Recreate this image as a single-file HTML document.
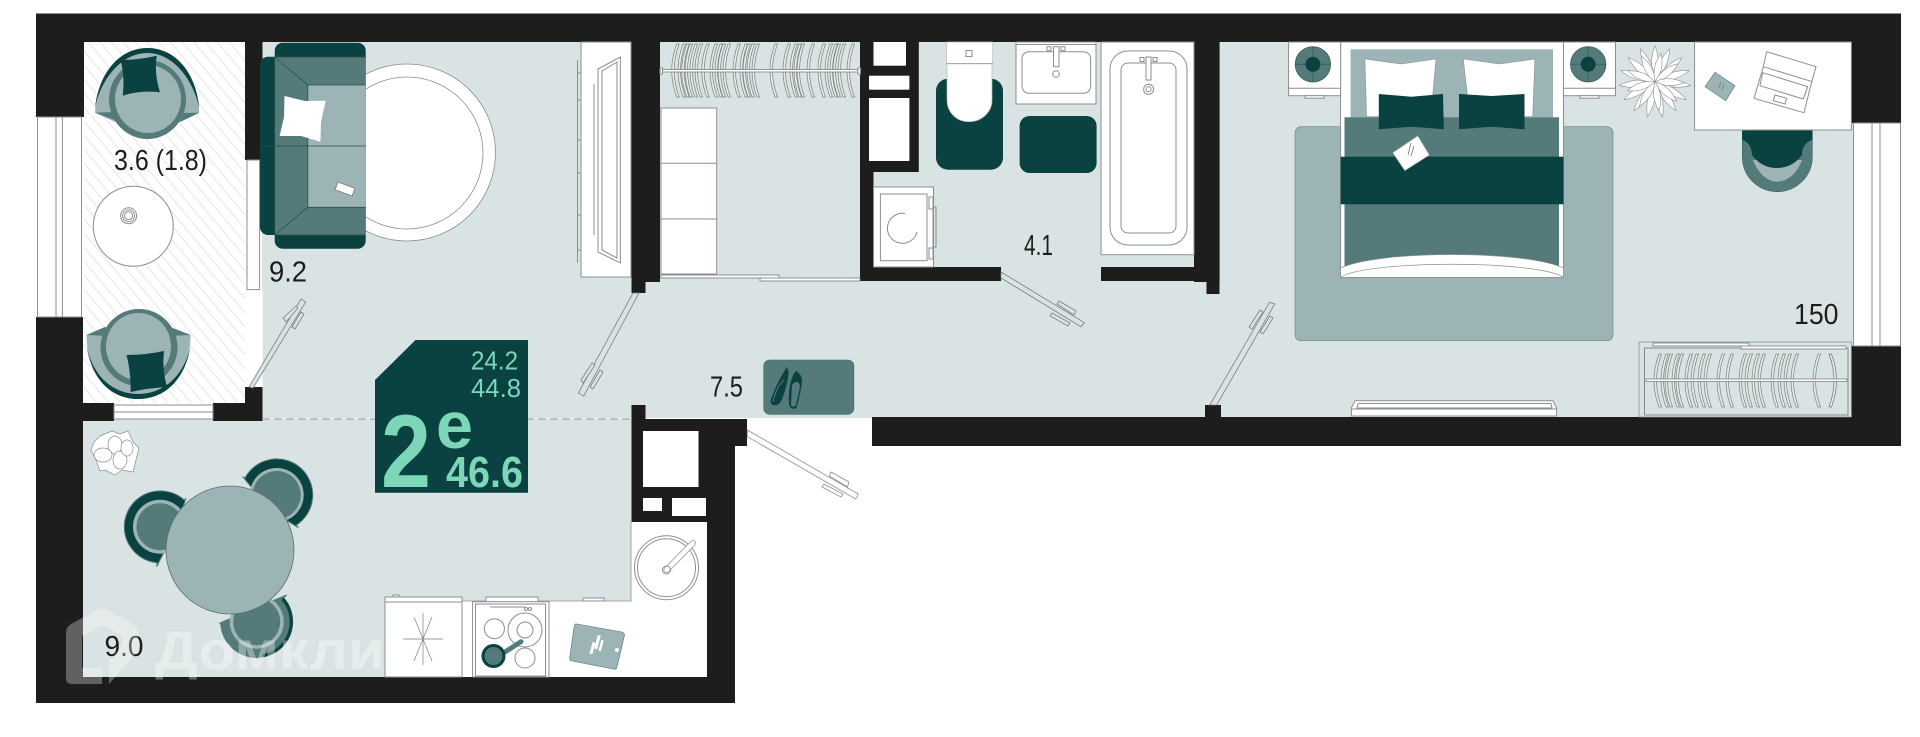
<!DOCTYPE html>
<html><head><meta charset="utf-8"><style>
html,body{margin:0;padding:0;background:#fff;width:1920px;height:737px;overflow:hidden}
svg{display:block}
text{font-family:"Liberation Sans",sans-serif}
.l{fill:#1d1d1b;font-size:29px}
.w{fill:#fff;stroke:#8a8f8f;stroke-width:1}
.t{fill:none;stroke:#8a8f8f;stroke-width:1}
.d{fill:#dae3e3;stroke:#7a8080;stroke-width:.8}
</style></head><body>
<svg width="1920" height="737" viewBox="0 0 1920 737" xmlns="http://www.w3.org/2000/svg">
<defs>
<pattern id="hatch" width="9" height="22" patternUnits="userSpaceOnUse" patternTransform="rotate(-40)"><line x1="4.500" y1="0" x2="4.500" y2="22" stroke="#dcdfdf" stroke-width=".8"/></pattern>
<path id="h" d="M5,0 Q-5,26.500 5,53 l2.500,0 Q-2.500,26.500 7.500,0z" fill="#e4eaea" stroke="#7a8080" stroke-width=".7"/>
<path id="hr" d="M0,0 Q10,26.500 0,53 l2.500,0 Q12.500,26.500 2.500,0z" fill="#e4eaea" stroke="#6f7575" stroke-width=".7"/>
<path id="lf" d="M0,0 Q7,-18 0,-36 Q-7,-18 0,0z" fill="#fff" stroke="#8a8f8f" stroke-width=".6"/>
<path id="lm" d="M0,0 Q7,-14 0,-29 Q-7,-14 0,0z" fill="#fff" stroke="#8a8f8f" stroke-width=".6"/>
</defs>
<rect width="1920" height="737" fill="#fff"/>

<!-- floors -->
<rect x="262" y="42" width="1592" height="376" fill="#dae3e3"/>
<rect x="83" y="419" width="549" height="258" fill="#dae3e3"/>
<rect x="747" y="418" width="125" height="90" fill="#fff"/>

<!-- balcony -->
<rect x="84" y="42" width="178" height="362" fill="#fff"/>
<rect x="84" y="42" width="161" height="361" fill="url(#hatch)"/>
<rect x="245" y="290" width="17.500" height="97" fill="#fff"/>

<!-- kitchen counter -->
<rect x="385" y="601" width="322" height="76" fill="#fff"/>
<rect x="631" y="522" width="76" height="80" fill="#fff"/>
<path d="M385,601H631V522" fill="none" stroke="#8a8f8f" stroke-width=".8"/>
<rect x="486" y="597" width="52" height="5" class="w"/>
<rect x="583" y="598" width="21" height="3" class="w"/>

<!-- walls -->
<g fill="#1d1d1b">
<rect x="36" y="13.500" width="1865" height="28.500"/>
<rect x="36" y="13.500" width="48" height="103.500"/>
<rect x="1851.500" y="13.500" width="49.500" height="109.500"/>
<rect x="1851.500" y="346" width="49.500" height="100"/>
<rect x="872" y="417" width="1029" height="29"/>
<rect x="36" y="317" width="47" height="386"/>
<rect x="36" y="677" width="699" height="26"/>
<rect x="707" y="446" width="28" height="257"/>
<rect x="245" y="42" width="17.500" height="118"/>
<rect x="245" y="387" width="17.500" height="34"/>
<rect x="83" y="403" width="31" height="18"/>
<rect x="213" y="403" width="49" height="18"/>
<rect x="631.500" y="42" width="28.500" height="240"/>
<rect x="631.500" y="282" width="14" height="11"/>
<rect x="631.500" y="405" width="14" height="117"/>
<rect x="631.500" y="419" width="115.500" height="27"/>
<rect x="631.500" y="446" width="75.500" height="76"/>
<rect x="860" y="42" width="58.800" height="130"/>
<rect x="860" y="172" width="13.500" height="109"/>
<rect x="860" y="267" width="141" height="14"/>
<rect x="1101" y="267" width="93" height="14"/>
<rect x="1194" y="42" width="25.600" height="240"/>
<rect x="1206.500" y="282" width="13" height="12"/>
<rect x="1205" y="405" width="16" height="12"/>
</g>
<!-- shaft holes -->
<g fill="#fff">
<rect x="643" y="431" width="55.500" height="56"/>
<rect x="643" y="498" width="19" height="13"/>
<rect x="672" y="498" width="34" height="18"/>
<rect x="873.500" y="42" width="32.500" height="23.700"/>
<rect x="869" y="75.700" width="40.400" height="14"/>
<rect x="869" y="98" width="40.400" height="63"/>
</g>
<!-- windows -->
<rect x="37.500" y="117" width="44" height="200" class="w"/>
<path class="t" d="M56,117V317M62.400,117V317"/>
<rect x="1853.500" y="123" width="47" height="223" class="w"/>
<path class="t" d="M1872,123V346M1880,123V346"/>
<rect x="114" y="405" width="99" height="14" class="w"/>
<path class="t" d="M114,412H213"/>
<rect x="247" y="160" width="12.600" height="129.600" class="w"/>
<line x1="262" y1="419" x2="632" y2="419" stroke="#8d9494" stroke-width="1" stroke-dasharray="8 4"/>

<!-- balcony chairs -->
<path d="M95,112.700C97,75 120,48 147.500,48C175,48 197,75 199.300,112.700L180,122L115,122Z" fill="#9cb4b5"/>
<path d="M95,108C99,72 120,48 147.500,48C175,48 196,72 199.300,108C193,78 172,53 147.500,53C122,53 101,78 95,108Z" fill="#094240"/>
<path d="M95,112.700L115,120L113,112ZM199.300,112.700L180,122L183,113Z" fill="#547a79"/>
<ellipse cx="147.500" cy="99.500" rx="38.500" ry="39.500" fill="#547a79"/>
<ellipse cx="148" cy="99" rx="33" ry="34" fill="#9cb4b5"/>
<path d="M120.700,60Q138,60 156.700,55.700Q154,74 160,92.300Q140,90 122.700,95.700Q125,78 120.700,60Z" fill="#094240"/>
<path d="M190.600,335C190,372 168,399 138,399C108,399 87,372 86.500,335L105,327L170,327Z" fill="#9cb4b5"/>
<path d="M190.600,345C186,378 166,399 138,399C110,399 91,378 86.500,345C92,375 112,394 138,394C164,394 185,375 190.600,345Z" fill="#094240"/>
<path d="M86.500,335L105,327L108,336ZM190.600,335L170,327L168,336Z" fill="#547a79"/>
<ellipse cx="139" cy="347.500" rx="38.500" ry="38.500" fill="#547a79"/>
<ellipse cx="138.500" cy="346.500" rx="32.500" ry="33.500" fill="#9cb4b5"/>
<path d="M126.500,355Q146,355 164,351Q162,370 167,387Q148,388 130.600,392Q131,372 126.500,355Z" fill="#094240"/>
<circle cx="133.300" cy="226.300" r="40" class="w"/>
<circle cx="128.600" cy="215.700" r="8" class="t"/><circle cx="128.600" cy="215.700" r="6" class="t"/><circle cx="128.600" cy="215.700" r="4" class="t"/>

<!-- round rug -->
<circle cx="407" cy="152.500" r="88.500" fill="#fff" stroke="#8a8f8f" stroke-width=".8"/>
<circle cx="407" cy="153" r="76" fill="none" stroke="#8a8f8f" stroke-width=".8"/>

<!-- sofa -->
<rect x="260" y="56.700" width="30" height="178.300" rx="8" fill="#094240"/>
<rect x="274.700" y="42.700" width="91" height="206" rx="8" fill="#094240"/>
<rect x="274.700" y="57" width="91" height="178" fill="#547a79"/>
<rect x="307.800" y="85" width="57.900" height="122.300" fill="#9cb4b5"/>
<path d="M274.700,57L307.800,85V207.300L274.700,235M274.700,57V235M262,146H365.700M307.800,85H365.700M307.800,207.300H365.700M274.700,57H365.700M274.700,235H365.700" fill="none" stroke="#2d4f4e" stroke-width=".8"/>
<polygon points="284.500,96 305,101 325.700,100.700 321,122 320.400,141.700 301,136 279.600,136 284,117" fill="#fff"/>
<rect x="336" y="185" width="18" height="8" transform="rotate(20 345 189)" fill="#fff" stroke="#666" stroke-width=".6"/>

<!-- TV -->
<rect x="581" y="42" width="50" height="235" class="w"/>
<polygon points="598,69 620.400,57 620.400,263 598,252" class="w"/>
<polygon points="602,71 617,62 617,258 602,250" class="w"/>
<path class="t" d="M577.500,60V263M577.500,73h3M577.500,100h3M577.500,140h3M577.500,173h3M577.500,215h3M577.500,250h3M594,84V235"/>

<!-- closet -->
<g>
<use href="#h" x="671.700" y="44"/><use href="#h" x="678" y="44"/><use href="#h" x="681.700" y="44"/><use href="#h" x="685" y="44"/><use href="#h" x="690" y="44"/><use href="#h" x="695" y="44"/><use href="#h" x="701.700" y="44"/><use href="#h" x="710" y="44"/><use href="#h" x="715" y="44"/><use href="#h" x="718" y="44"/><use href="#h" x="723" y="44"/><use href="#h" x="733" y="44"/><use href="#h" x="740" y="44"/><use href="#h" x="743" y="44"/><use href="#h" x="747" y="44"/><use href="#h" x="752" y="44"/><use href="#h" x="770" y="44"/><use href="#h" x="783" y="44"/><use href="#h" x="790" y="44"/><use href="#h" x="794" y="44"/><use href="#h" x="797" y="44"/><use href="#h" x="807" y="44"/><use href="#h" x="818" y="44"/><use href="#h" x="825" y="44"/><use href="#h" x="830" y="44"/><use href="#h" x="833" y="44"/><use href="#h" x="838" y="44"/><use href="#h" x="847" y="44"/>
</g>
<rect x="661" y="69.500" width="198" height="2.500" fill="#fff" stroke="#7a8080" stroke-width=".8"/>
<rect x="660" y="68" width="2.500" height="6" class="w"/><rect x="858" y="68" width="2.500" height="6" class="w"/>
<rect x="661" y="108" width="55.700" height="166" class="w"/>
<path class="t" d="M661,163.300H716.700M661,219H716.700"/>
<rect x="661" y="275" width="118" height="3" class="w"/>
<rect x="760" y="278" width="100" height="3" class="w"/>

<!-- bathroom -->
<rect x="936" y="78.700" width="67" height="91" rx="12" fill="#094240"/>
<path d="M946.500,42H992.700V63.700H992V100C992,112 982,121.700 969,121.700C956,121.700 947,112 947,100V63.700H946.500Z" fill="#fff" stroke="#b5baba" stroke-width=".7"/>
<line x1="946.500" y1="63.700" x2="992.700" y2="63.700" stroke="#8a8f8f" stroke-width=".8"/>
<rect x="966" y="50.500" width="6" height="6" class="w"/>
<rect x="1016" y="42" width="80" height="62" class="w"/>
<path class="t" d="M1016,44.500H1096"/>
<rect x="1022" y="51.700" width="68.600" height="41.600" rx="7" class="w"/>
<rect x="1053.500" y="46.700" width="5.500" height="20" class="w"/>
<rect x="1047" y="46.700" width="4" height="4" class="w"/><rect x="1061" y="46.700" width="4" height="4" class="w"/>
<circle cx="1056" cy="74" r="3.300" class="w"/>
<rect x="1019.600" y="116" width="77" height="57" rx="10" fill="#094240"/>
<rect x="1101" y="42" width="93" height="212.700" class="w"/>
<rect x="1110" y="51" width="77" height="194" rx="18" class="w"/>
<rect x="1121" y="63" width="55" height="170" rx="7" class="w"/>
<rect x="1146" y="57" width="5" height="23" class="w"/>
<rect x="1140" y="57.500" width="4" height="4" class="w"/><rect x="1153" y="57.500" width="4" height="4" class="w"/>
<circle cx="1148.600" cy="89.300" r="5" class="w"/><circle cx="1148.600" cy="89.300" r="2.500" class="t"/>
<rect x="873.500" y="187" width="60" height="80" class="w"/>
<rect x="880.400" y="194" width="46.600" height="66.700" class="w"/>
<path class="t" d="M905,213.500A15,15 0 1 0 917,232"/>
<path class="t" d="M929,197h4v12h-4zM933,207h3v40h-3zM929,248h4v11h-4z"/>

<!-- hall mat + shoes -->
<rect x="763.700" y="360" width="90.200" height="54.300" rx="6" fill="#547a79" stroke="#3f6362" stroke-width=".6"/>
<path d="M787,368C781,376 771,398 771,402C772,406 778,405 780,402C783,397 788,380 788,372Z" fill="#094240" stroke="#094240"/>
<path d="M773,402C775,392 778,385 784,380" fill="none" stroke="#547a79" stroke-width="1"/>
<path d="M796,371C791,376 788,390 789,404C790,410 796,410 797,406C799,398 802,386 802,380C802,376 799,373 796,371Z" fill="#094240"/>
<path d="M792,385C795,380 799,381 800,386C799,393 797,400 796,405C794,408 791,407 791,404Z" fill="#547a79"/>

<!-- doors -->
<polygon points="249,387 301,299 305.700,302 253,388" class="d"/>
<polygon points="283,318 296,306 298,308 286,322" class="d"/><polygon points="292,327 301,312 304,314 295,329" class="d"/>
<polygon points="633,293 639,293 583.700,396 578.400,393" class="d"/>
<polygon points="581,380 592,363 595,365 583,383" class="d"/><polygon points="590,387 600,370 603,372 593,389" class="d"/>
<polygon points="1001,272 1001,278 1081,326.700 1084.500,322.700" class="d"/>
<polygon points="1059,301 1076,311 1074,315 1057,304" class="d"/><polygon points="1052,313 1070,323 1068,326 1050,316" class="d"/>
<polygon points="1209.800,405 1216.700,405 1274.700,304 1269.500,302.300" class="d"/>
<polygon points="1249,327 1260,310 1263,312 1252,329" class="d"/><polygon points="1260,332 1270,316 1273,318 1263,334" class="d"/>
<polygon points="747.300,430 747.300,436.700 855.700,499 858.300,494" class="w" style="stroke-width:.8"/>
<polygon points="831,472 849,482 847.500,487 829.500,476" class="w" style="stroke-width:.8"/><polygon points="824,484 843,494 841,497 822,487" class="w" style="stroke-width:.8"/>

<!-- bedroom rug & bed -->
<rect x="1295" y="126.700" width="318" height="214" rx="6" fill="#9cb4b5" stroke="#6d8887" stroke-width=".7"/>
<rect x="1340.600" y="42" width="222.900" height="235.300" class="w"/>
<rect x="1350.600" y="49.300" width="202.400" height="68" fill="#9cb4b5"/>
<path d="M1344.500,117.300H1559V267C1520,252 1384,252 1344.500,267Z" fill="#547a79"/>
<rect x="1340.600" y="156.700" width="222.900" height="47.600" fill="#094240"/>
<path d="M1340.600,268C1380,250 1524,250 1563.500,268V277.300H1340.600Z" fill="#fff" stroke="#8a8f8f" stroke-width=".7"/>
<path class="t" d="M1340.600,277C1370,260 1534,260 1563.500,277" style="stroke-width:.7"/>
<polygon points="1364.900,59 1401.300,64 1436,59 1430.800,116.700 1366.600,116.700" fill="#fff" stroke="#8a8f8f" stroke-width=".6"/>
<polygon points="1463.300,59 1499.300,64 1534.900,59 1532.700,116.700 1469.800,116.700" fill="#fff" stroke="#8a8f8f" stroke-width=".6"/>
<polygon points="1378.800,94 1411.300,96.700 1443,94 1443.800,129.300 1411.300,126.700 1378.800,129.300" fill="#094240"/>
<polygon points="1459,94 1491.500,96 1524.500,94 1524.500,129.300 1491.500,126.700 1459,129.300" fill="#094240"/>
<polygon points="1417.800,135.700 1429.500,155 1404.800,170.700 1392.600,152.700" fill="#fff" stroke="#8a8f8f" stroke-width=".6"/>
<path d="M1411,143l-3,12M1414,146l-3,10" stroke="#666" stroke-width=".7"/>

<!-- nightstands -->
<rect x="1288.600" y="42" width="52" height="53.700" class="w"/><path class="t" d="M1288.600,88.300H1340.600"/>
<rect x="1563.500" y="42" width="52" height="53.700" class="w"/><path class="t" d="M1563.500,88.300H1615.500"/>
<rect x="1305" y="95.700" width="19" height="2.500" class="w"/><rect x="1580" y="95.700" width="19" height="2.500" class="w"/>
<g stroke="#3c5f5e" stroke-width=".8">
<circle cx="1312.900" cy="64.300" r="17.700" fill="#547a79"/><path d="M1312.900,46.600V82M1295.200,64.300H1330.600"/>
<circle cx="1588.200" cy="64.300" r="17.700" fill="#547a79"/><path d="M1588.200,46.600V82M1570.500,64.300H1605.900"/>
</g>
<circle cx="1312.900" cy="64.300" r="7.500" fill="#094240"/><circle cx="1588.200" cy="64.300" r="7.500" fill="#094240"/>

<!-- plant -->
<g transform="translate(1655 81.700)">
<use href="#lf" transform="rotate(0)"/><use href="#lf" transform="rotate(24)"/><use href="#lf" transform="rotate(48)"/><use href="#lf" transform="rotate(72)"/><use href="#lf" transform="rotate(96)"/><use href="#lf" transform="rotate(120)"/><use href="#lf" transform="rotate(144)"/><use href="#lf" transform="rotate(168)"/><use href="#lf" transform="rotate(192)"/><use href="#lf" transform="rotate(216)"/><use href="#lf" transform="rotate(240)"/><use href="#lf" transform="rotate(264)"/><use href="#lf" transform="rotate(288)"/><use href="#lf" transform="rotate(312)"/><use href="#lf" transform="rotate(336)"/>
<use href="#lm" transform="rotate(12)"/><use href="#lm" transform="rotate(52)"/><use href="#lm" transform="rotate(92)"/><use href="#lm" transform="rotate(132)"/><use href="#lm" transform="rotate(172)"/><use href="#lm" transform="rotate(212)"/><use href="#lm" transform="rotate(252)"/><use href="#lm" transform="rotate(292)"/><use href="#lm" transform="rotate(332)"/>
</g>

<!-- desk -->
<path d="M1742.300,129V156.700A35,35 0 0 0 1812.300,156.700V129Z" fill="#547a79" stroke="#3c5f5e" stroke-width=".6"/>
<path d="M1753,160C1758,174 1768,181.700 1777,181.700C1787,181.700 1797,174 1802,160Z" fill="#9cb4b5"/>
<path d="M1742.300,129H1812.300V140C1805,142 1802,148 1802,155C1796,163 1788,168 1777,168C1766,168 1758,163 1752,155C1752,148 1749,142 1742.300,140Z" fill="#094240"/>
<rect x="1694.500" y="42" width="156.900" height="88" class="w"/>
<polygon points="1715,72.300 1735,85.700 1725.700,100.700 1705,86.700" fill="#9cb4b5" stroke="#5a7675" stroke-width=".6"/>
<path d="M1721,82l-2,6M1724,84l-2,6" stroke="#5a7675" stroke-width=".6"/>
<path d="M1766.700,51.700L1816,66.700L1811.700,81.700L1804,112.700L1754,98.300L1763.300,66.700Z" class="w" stroke-linejoin="round"/>
<path class="t" d="M1763.300,66.700L1812.300,81.700M1762.700,72.700L1807.700,86.700L1803.300,99L1760,85.700ZM1775,95L1786.700,98.300L1785,104L1773.300,100.700Z"/>

<!-- bedroom wardrobe -->
<rect x="1639" y="342" width="212.400" height="75" fill="#dae3e3" stroke="#8a8f8f" stroke-width=".8"/>
<rect x="1644.600" y="348" width="203.400" height="67" fill="none" stroke="#6f7575" stroke-width=".8"/>
<rect x="1653" y="343" width="96" height="3" class="w"/><rect x="1741" y="346" width="105" height="3" class="w"/>
<g>
<use href="#h" x="1654" y="354"/><use href="#h" x="1661" y="354"/><use href="#h" x="1665" y="354"/><use href="#h" x="1672" y="354"/><use href="#h" x="1676" y="354"/><use href="#h" x="1685" y="354"/><use href="#h" x="1691" y="354"/><use href="#h" x="1698" y="354"/><use href="#h" x="1704" y="354"/><use href="#h" x="1717" y="354"/><use href="#h" x="1726" y="354"/><use href="#h" x="1739" y="354"/><use href="#h" x="1745" y="354"/><use href="#h" x="1752" y="354"/><use href="#h" x="1758" y="354"/><use href="#h" x="1771" y="354"/><use href="#h" x="1778" y="354"/><use href="#h" x="1784" y="354"/><use href="#h" x="1791" y="354"/><use href="#h" x="1813" y="354"/><use href="#hr" x="1829" y="354"/>
</g>
<rect x="1646" y="379" width="201" height="2.500" fill="#fff" stroke="#6f7575" stroke-width=".7"/>
<!-- bedroom tv -->
<polygon points="1351.400,416 1351.400,408 1355,400.700 1553,400.700 1556.600,408 1556.600,416" class="w"/>
<polygon points="1357,408 1358,403.500 1551,403.500 1552,408" class="t"/>
<path class="t" d="M1351.400,409H1556.600"/>

<!-- kitchen -->
<g fill="#fff" stroke="#8a8f8f" stroke-width=".7">
<polygon points="100,436 112,431 120,434 128,431 133,442 139,448 136,460 133,472 122,470 115,475 105,470 100,471 96,460 91,450 94,442"/>
<ellipse cx="115" cy="445" rx="7" ry="9"/><ellipse cx="103" cy="455" rx="9" ry="7"/><ellipse cx="120" cy="460" rx="7" ry="9"/><ellipse cx="127" cy="448" rx="6" ry="8"/>
</g>
<path d="M242.700,476.700L245,477.900A36,36 0 1 1 296.500,525L298.300,527.700L270,510Z" fill="#094240" stroke="#547a79" stroke-width="1"/>
<circle cx="276.700" cy="495" r="27" fill="#9cb4b5"/><circle cx="276.700" cy="495" r="24" fill="#547a79"/>
<path d="M186,498.300L184.300,500A36,36 0 1 0 157,562.700L156.700,566.700L175,530Z" fill="#094240" stroke="#547a79" stroke-width="1"/>
<circle cx="160" cy="526.700" r="27" fill="#9cb4b5"/><circle cx="160" cy="526.700" r="23.500" fill="#547a79"/>
<path d="M286.700,595L283.700,597.700A36,36 0 1 1 220.700,623.200L219.300,623.300L250,610Z" fill="#547a79" stroke="#547a79" stroke-width="1"/>
<path d="M283.700,597.700A36,36 0 0 1 263,657.200L262.400,654.200A33,33 0 0 0 281.400,599.800Z" fill="#094240"/>
<circle cx="256.700" cy="621.700" r="27" fill="#9cb4b5"/><circle cx="256.700" cy="621.700" r="23.500" fill="#547a79"/>
<circle cx="230" cy="550" r="64" fill="#9cb4b5" stroke="#5c6f6f" stroke-width=".8"/>

<rect x="385" y="597" width="77" height="80" class="w"/><path class="t" d="M385,602H462"/>
<rect x="393" y="595" width="6" height="2" class="w"/>
<path d="M423,613V665M403,639H443M414,617L432,661M432,617L414,661" stroke="#7a8080" stroke-width=".7"/>
<rect x="472.600" y="601.700" width="76.400" height="75.300" class="w"/>
<rect x="475.500" y="604" width="70" height="72" class="w"/>
<path class="t" d="M490,607H525"/>
<circle cx="526" cy="609" r="1.500" class="t"/><circle cx="530" cy="609" r="1.500" class="t"/>
<circle cx="494.400" cy="628.700" r="10" class="w"/>
<circle cx="525" cy="630" r="17" class="w"/><circle cx="525" cy="630" r="8" class="w"/>
<circle cx="525" cy="658" r="10" class="w"/>
<line x1="505" y1="652" x2="521" y2="641.700" stroke="#547a79" stroke-width="5" stroke-linecap="round"/>
<circle cx="493.500" cy="656" r="12" fill="#094240"/><circle cx="493.500" cy="656" r="9" fill="#547a79"/>
<path d="M577,624L622,632Q625,633 624.300,636L617,667Q616.500,670 613,669L572,661Q569,660 569.800,657L574,627Q575,623 577,624Z" fill="#9cb4b5" stroke="#5c6f6f" stroke-width=".6"/>
<rect x="596" y="635" width="3" height="14" fill="#fff" transform="rotate(15 597 642)"/><rect x="591" y="642" width="3" height="12" fill="#fff" transform="rotate(15 592 648)"/><rect x="600" y="640" width="2.500" height="11" fill="#fff" transform="rotate(15 601 645)"/>
<circle cx="617" cy="650" r="2" fill="#fff"/>
<circle cx="666.500" cy="567.700" r="32" class="w"/><circle cx="666.500" cy="567.700" r="29" class="t"/>
<line x1="666.500" y1="570" x2="693" y2="543" stroke="#8a8f8f" stroke-width="6" stroke-linecap="round"/>
<line x1="666.500" y1="570" x2="693" y2="543" stroke="#fff" stroke-width="4.600" stroke-linecap="round"/>
<circle cx="666.500" cy="570" r="4" class="t"/>

<!-- badge -->
<polygon points="415.500,340 528,340 528,492.700 375,492.700 375,380" fill="#094240"/>
<g fill="#7dd6b7">
<text x="471" y="369.300" font-size="26" textLength="47" lengthAdjust="spacingAndGlyphs">24.2</text>
<text x="471" y="397" font-size="26" textLength="50" lengthAdjust="spacingAndGlyphs">44.8</text>
<text x="381" y="487" font-size="104" font-weight="700" textLength="50" lengthAdjust="spacingAndGlyphs">2</text>
<text x="436" y="448" font-size="66" font-weight="700" textLength="37" lengthAdjust="spacingAndGlyphs">e</text>
<text x="446" y="487" font-size="44" font-weight="700" textLength="77" lengthAdjust="spacingAndGlyphs">46.6</text>
</g>

<!-- room labels -->
<text class="l" x="114" y="170" textLength="93" lengthAdjust="spacingAndGlyphs">3.6 (1.8)</text>
<text class="l" x="269" y="281.700" textLength="38" lengthAdjust="spacingAndGlyphs">9.2</text>
<text class="l" x="1024" y="255" textLength="29" lengthAdjust="spacingAndGlyphs">4.1</text>
<text class="l" x="710" y="396.700" textLength="33" lengthAdjust="spacingAndGlyphs">7.5</text>
<text class="l" x="1794" y="324" textLength="44.500" lengthAdjust="spacingAndGlyphs">150</text>
<text class="l" x="104.500" y="656" textLength="39" lengthAdjust="spacingAndGlyphs">9.0</text>

<!-- watermark -->
<path fill-rule="evenodd" fill="#fff" fill-opacity=".3" d="M66,633Q66,627 71,624L97,610Q102,607 107,610L133,624Q138,627 138,633V648Q138,651 136,653L109,684V661L122,646V636L102,625L82,636V668H102V684H72Q66,684 66,678Z"/>
<text x="155" y="669" font-size="54" font-weight="700" fill="#fff" fill-opacity=".35" textLength="260" lengthAdjust="spacingAndGlyphs" style="font-family:'Liberation Sans','DejaVu Sans',sans-serif">Домклик</text>
</svg>
</body></html>
